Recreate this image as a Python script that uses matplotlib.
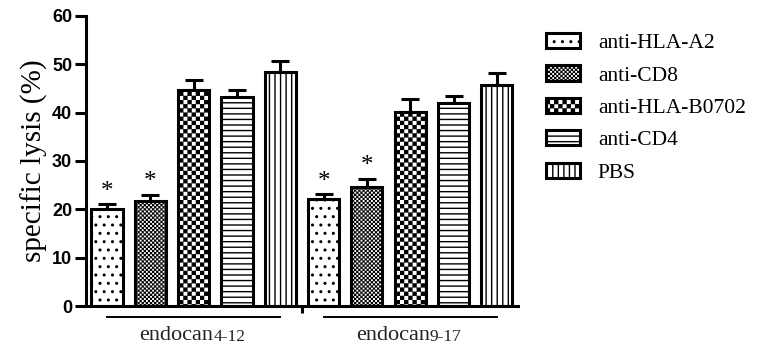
import numpy as np
import matplotlib
matplotlib.use('Agg')
from matplotlib import pyplot as plt
from matplotlib import hatch as mhatch

# data
treatments = ['anti-HLA-A2', 'anti-CD8', 'anti-HLA-B0702', 'anti-CD4', 'PBS']
peptides = ['endocan', 'endocan']
peptide_subs = ['4-12', '9-17']
lysis_412 = [20.0, 21.7, 44.6, 43.2, 48.5]
err_412 = [1.0, 1.3, 2.2, 1.4, 2.1]
lysis_917 = [22.1, 24.7, 40.2, 42.1, 45.8]
err_917 = [1.0, 1.6, 2.7, 1.4, 2.4]
significant = [True, True, False, False, False]

hatches = ['..', 'OOOOOOOO', 'OOOO', '---', '|||']


##################
# CHECKER HATCH  #
##################
# matplotlib has no checkerboard hatch, so 'O' is swapped for one
class CheckerHatch(mhatch.HatchPatternBase):
    def __init__(self, hatch, density):
        self.num_cells = hatch.count('O') * density
        self.num_vertices = (self.num_cells ** 2 // 2) * 5

    def set_vertices_and_codes(self, vertices, codes):
        n = self.num_cells
        c = 1.0 / n
        s = 0.006
        k = 0
        for i in range(n):
            for j in range(n):
                if (i + j) % 2:
                    continue
                x0, y0 = i * c + s, j * c + s
                x1, y1 = (i + 1) * c - s, (j + 1) * c - s
                vertices[k:k + 5] = [[x0, y0], [x1, y0], [x1, y1], [x0, y1], [x0, y0]]
                codes[k:k + 5] = [1, 2, 2, 2, 79]
                k += 5


idx = mhatch._hatch_types.index(mhatch.LargeCircles)
mhatch._hatch_types[idx] = CheckerHatch

plt.rcParams['hatch.linewidth'] = 1.0
plt.rcParams['font.family'] = ['Liberation Serif', 'DejaVu Serif']

lysis = np.array([lysis_412, lysis_917])
errs = np.array([err_412, err_917])
n_t = len(treatments)

fig = plt.figure(figsize=(7.66, 3.49), dpi=100)
ax = fig.add_axes([0.1123, 0.1232, 0.564, 0.831])

for j in range(n_t):
    x = np.arange(len(peptides)) * n_t + j
    ax.bar(x, lysis[:, j], width=0.72, color='white', edgecolor='black',
           linewidth=2.2, hatch=hatches[j], label=treatments[j], zorder=2)
    ax.errorbar(x, lysis[:, j], yerr=[np.zeros(len(x)), errs[:, j]], fmt='none',
                ecolor='black', elinewidth=2.2, capsize=6.5, capthick=2.2, zorder=1)
    if significant[j]:
        for xi, v, e in zip(x, lysis[:, j], errs[:, j]):
            ax.text(xi, v + e + 2.6, '*', ha='center', va='center', fontsize=18)

ax.set_ylim(0, 60)
ax.set_xlim(-0.485, 9.49)
ax.set_yticks(range(0, 61, 10))
ax.set_yticklabels([str(v) for v in range(0, 61, 10)], family='Liberation Sans',
                   fontweight='bold', fontsize=13)
ax.set_xticks([n_t - 0.5])
ax.set_xticklabels([''])
ax.tick_params(axis='y', length=8, width=2.2, pad=2)
ax.tick_params(axis='x', length=5, width=2.2)
for side in ['top', 'right']:
    ax.spines[side].set_visible(False)
for side in ['left', 'bottom']:
    ax.spines[side].set_linewidth(2.2)

ax.set_ylabel('specific lysis (%)', fontsize=21, labelpad=3)

# group brackets under the axis
trans = ax.get_xaxis_transform()
for g in range(len(peptides)):
    x0 = g * n_t
    x1 = g * n_t + n_t - 1
    ax.plot([x0, x1], [-0.038, -0.038], color='black', lw=1.4,
            transform=trans, clip_on=False)
    t = ax.text((x0 + x1) / 2 - 0.4, -0.102, peptides[g], transform=trans,
                ha='center', va='center', fontsize=16, color='#222222')
    ax.annotate(peptide_subs[g], xy=(1, 0), xycoords=t, xytext=(0, 0),
                textcoords='offset points', ha='left', va='bottom',
                fontsize=12.5, color='#222222')

fig.legend(loc='upper left', bbox_to_anchor=(0.713, 0.905), frameon=False,
           fontsize=15.5, handlelength=1.55, handleheight=0.7, handletextpad=0.85,
           labelspacing=0.57, borderpad=0, borderaxespad=0)

fig.savefig('out.png', dpi=100)
